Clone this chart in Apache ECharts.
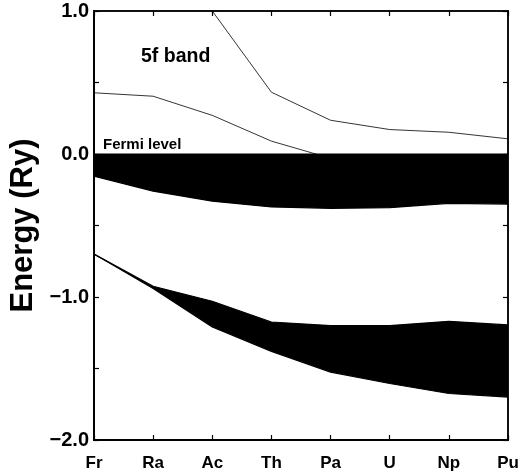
<!DOCTYPE html>
<html>
<head>
<meta charset="utf-8">
<script src="https://cdn.jsdelivr.net/npm/echarts@6/dist/echarts.min.js"></script>
<style>
  html, body { margin: 0; padding: 0; background: #fff; }
  #chart { width: 521px; height: 473px; }
</style>
</head>
<body>
<div id="chart"></div>
<script>
// elements along the x axis
const elements = ["Fr", "Ra", "Ac", "Th", "Pa", "U", "Np", "Pu"];

// band just below the Fermi level (top edge is 0.0)
const fermiBandTop = [0, 0, 0, 0, 0, 0, 0, 0];
const fermiBandBottom = [-0.155, -0.26, -0.33, -0.37, -0.38, -0.375, -0.345, -0.35];

// deeper band
const deepBandTop = [-0.70, -0.925, -1.03, -1.175, -1.2, -1.2, -1.17, -1.195];
const deepBandBottom = [-0.70, -0.94, -1.21, -1.38, -1.525, -1.605, -1.675, -1.70];

// 5f band edges (thin lines)
const fUpper = [null, null, 1.0, 0.432, 0.236, 0.171, 0.152, 0.106];
const fLower = [0.428, 0.404, 0.27, 0.09, -0.03, null, null, null];

const yTicks = [-2, -1, 0, 1];

const font = "'Liberation Sans', Arial, sans-serif";
const chart = echarts.init(document.getElementById("chart"));

// builds a black band as base + difference stack
function band(name, top, bottom) {
  return [
    {
      name: name + "-base",
      type: "line",
      stack: name,
      stackStrategy: "all",
      data: bottom,
      symbol: "none",
      lineStyle: { width: 1.2, color: "#000" },
      z: 5,
      silent: true,
    },
    {
      name: name,
      type: "line",
      stack: name,
      stackStrategy: "all",
      data: top.map((t, i) => +(t - bottom[i]).toFixed(4)),
      symbol: "none",
      lineStyle: { width: 1.2, color: "#000" },
      areaStyle: { color: "#000", opacity: 1 },
      z: 5,
      silent: true,
    },
  ];
}

const yLabel = (v) =>
  yTicks.includes(v) ? v.toFixed(1).replace("-", "\u2212") : "";

// fresh object per axis (echarts merges defaults into it)
const tick = () => ({ show: true, inside: true, length: 5, lineStyle: { color: "#000", width: 1.2 } });

const option = {
  animation: false,
  title: [
    {
      text: "5f band",
      left: 141,
      top: 47,
      padding: 0,
      textStyle: { color: "#000", fontFamily: font, fontWeight: "bold", fontSize: 19.5 },
    },
    {
      text: "Fermi level",
      left: 103,
      top: 137,
      padding: 0,
      textStyle: { color: "#000", fontFamily: font, fontWeight: "bold", fontSize: 15 },
    },
  ],
  grid: {
    left: 94, right: 13, top: 11, bottom: 33,
    outerBoundsMode: "none",
    show: true,
    borderColor: "#111",
    borderWidth: 2,
  },
  xAxis: [
    {
      type: "category",
      data: elements,
      boundaryGap: false,
      axisLine: { onZero: false, lineStyle: { color: "#000", width: 2 } },
      axisTick: tick(),
      axisLabel: {
        margin: 15,
        color: "#000",
        fontFamily: font,
        fontWeight: "bold",
        fontSize: 17,
      },
      splitLine: { show: false },
    },
    {
      type: "category",
      data: elements,
      position: "top",
      boundaryGap: false,
      axisLine: { show: true, onZero: false, lineStyle: { color: "#111", width: 2 } },
      axisTick: tick(),
      axisLabel: { show: false },
      splitLine: { show: false },
    },
  ],
  yAxis: [
    {
      type: "value",
      min: -2,
      max: 1,
      interval: 0.5,
      name: "Energy (Ry)",
      nameLocation: "middle",
      nameGap: 53,
      nameTextStyle: {
        color: "#000",
        fontFamily: font,
        fontWeight: "bold",
        fontSize: 31,
      },
      axisLine: { show: true, onZero: false, lineStyle: { color: "#000", width: 2 } },
      axisTick: tick(),
      axisLabel: {
        margin: 5,
        padding: [6, 0, 0, 0],
        color: "#000",
        fontFamily: font,
        fontWeight: "bold",
        fontSize: 20,
        formatter: yLabel,
      },
      splitLine: { show: false },
    },
    {
      type: "value",
      min: -2,
      max: 1,
      interval: 0.5,
      position: "right",
      axisLine: { show: true, onZero: false, lineStyle: { color: "#111", width: 2 } },
      axisTick: tick(),
      axisLabel: { show: false },
      splitLine: { show: false },
    },
  ],
  series: [
    {
      name: "5f upper",
      type: "line",
      xAxisIndex: 1,
      yAxisIndex: 1,
      data: fUpper,
      symbol: "none",
      lineStyle: { color: "#000", width: 0.8 },
      z: 3,
    },
    {
      name: "5f lower",
      type: "line",
      data: fLower,
      symbol: "none",
      lineStyle: { color: "#000", width: 0.8 },
      z: 3,
    },
    ...band("fermi", fermiBandTop, fermiBandBottom),
    ...band("deep", deepBandTop, deepBandBottom),
  ],
};

chart.setOption(option);
</script>
</body>
</html>
